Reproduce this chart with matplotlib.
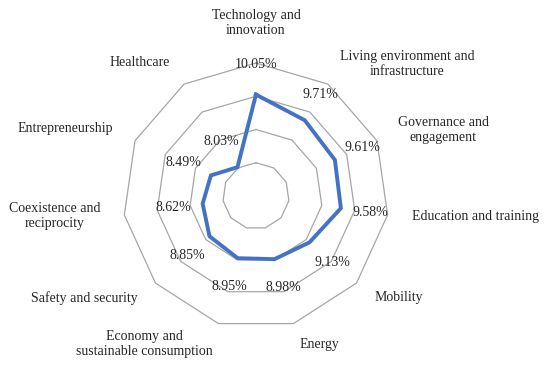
import matplotlib.pyplot as plt
import numpy as np

# data (share of each dimension, %)
categories = ['Technology and\ninnovation', 'Living environment and\ninfrastructure',
              'Governance and\nengagement', 'Education and training', 'Mobility', 'Energy',
              'Economy and\nsustainable consumption', 'Safety and security',
              'Coexistence and\nreciprocity', 'Entrepreneurship', 'Healthcare']
values = [10.05, 9.71, 9.61, 9.58, 9.13, 8.98, 8.95, 8.85, 8.62, 8.49, 8.03]
ring_levels = [8, 9, 10, 11]
r_min, r_max = 7, 11

# label placement: (ha, va, dx, dy) in pixels from the outer ring vertex
label_layout = [('center', 'bottom', 0, 26), ('left', 'bottom', 12, 6),
                ('left', 'center', 21, 11), ('left', 'center', 24, -2),
                ('left', 'center', 18, -14), ('left', 'top', 6, -14),
                ('right', 'top', -6, -6), ('right', 'center', -18, -15),
                ('right', 'center', -24, -1), ('right', 'center', -22, 12),
                ('right', 'bottom', -14, 15)]

plt.rcParams['font.family'] = ['Liberation Serif', 'DejaVu Serif']
plt.rcParams['font.size'] = 10

fig = plt.figure(figsize=(5.5, 3.73), dpi=100)
ax = fig.add_axes([0.2236, 0.118, 0.4836, 0.7131], polar=True)
ax.set_theta_zero_location('N')
ax.set_theta_direction(-1)
ax.set_ylim(r_min, r_max)

n = len(categories)
angles = np.linspace(0, 2 * np.pi, n, endpoint=False)
closed = np.concatenate((angles, [angles[0]]))

# polygon rings
for lvl in ring_levels:
    ax.plot(closed, [lvl] * (n + 1), color='#A6A6A6', linewidth=0.9, clip_on=False, zorder=1)

vals = np.concatenate((values, [values[0]]))
ax.plot(closed, vals, color='#4472C4', linewidth=2.8, solid_joinstyle='miter', zorder=3)

# data labels, pushed radially outwards
for a, v in zip(angles, values):
    ax.annotate('%.2f%%' % v, xy=(a, v), xytext=(30 * np.sin(a), 30 * np.cos(a)),
                textcoords='offset pixels', ha='center', va='center',
                color='#262626', annotation_clip=False, zorder=4)

# category labels
for a, cat, (ha, va, dx, dy) in zip(angles, categories, label_layout):
    ax.annotate(cat, xy=(a, r_max), xytext=(dx, dy), textcoords='offset pixels',
                ha=ha, va=va, multialignment='center', color='#262626',
                annotation_clip=False)

ax.grid(False)
ax.set_xticks([])
ax.set_yticks([])
ax.spines['polar'].set_visible(False)
ax.patch.set_alpha(0)

fig.savefig('out.png', dpi=100)
